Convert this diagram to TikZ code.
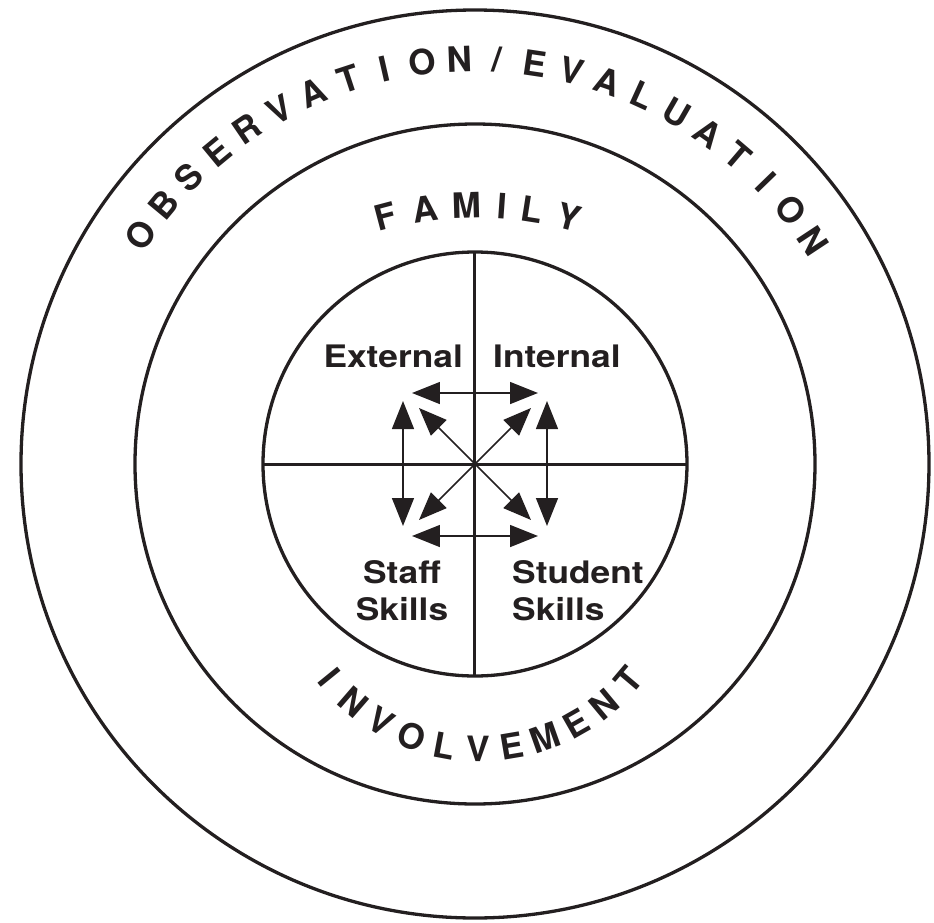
\documentclass[tikz,border=0pt]{standalone}
\usepackage{fontspec}
\setmainfont{TeX Gyre Heros}
\newfontfamily\widefont{TeX Gyre Heros}[FakeStretch=1.14]
\usetikzlibrary{arrows.meta,calc}
\definecolor{ink}{RGB}{35,31,32}

\begin{document}
\begin{tikzpicture}[x=1pt, y=1pt, color=ink,
    ring/.style={circle, draw, line width=3.3pt, inner sep=0pt, outer sep=0pt},
    curved/.style={inner sep=0pt, font=\bfseries\fontsize{35}{35}\selectfont},
    quad/.style={inner sep=0pt, font=\widefont\bfseries\fontsize{31}{37}\selectfont},
    dbl/.style={{Triangle[length=28pt,width=22pt]}-{Triangle[length=28pt,width=22pt]}, line width=1.5pt},
    sgl/.style={-{Triangle[length=28pt,width=22pt]}, line width=1.5pt}]
  \useasboundingbox (-475,-458) rectangle (459,464);

  % rings
  \node[ring, minimum size=908pt] (outer) at (0,0) {};
  \node[ring, minimum size=680pt] (middle) at (0,0) {};
  \node[ring, minimum size=424pt] (core) at (0,0) {};
  \draw[line width=3pt] (core.north) -- (core.south);
  \draw[line width=3pt] (core.west) -- (core.east);

  % curved titles
  \foreach \ch [count=\i from 0] in {O,B,S,E,R,V,A,T,I,O,N,\slash,E,V,A,L,U,A,T,I,O,N} {
    \pgfmathsetmacro\ang{145.6-5.34*\i}
    \node[curved, rotate=\ang-90] (obs\i) at (\ang:405) {\ch};
  }
  \coordinate (famc) at (2,-100);
  \foreach \ch/\ang [count=\i] in {F/104.8, A/98.3, M/91.6, I/86, L/81.1, Y/75.2}
    \node[curved, rotate=\ang-90] (fam\i) at ($(famc)+(\ang:359)$) {\ch};
  \coordinate (invc) at (5,-91);
  \foreach \ch [count=\i from 0] in {I,N,V,O,L,V,E,M,E,N,T} {
    \pgfmathsetmacro\ang{219.1+10.07*\i}
    \node[curved, rotate=\ang+90] (inv\i) at ($(invc)+(\ang:194)$) {\ch};
  }

  % quadrant labels
  \node[quad, anchor=base east] (ext) at (-12,97) {External};
  \node[quad, anchor=base west] (int) at (18,97) {Internal};
  \node[quad, anchor=north, align=center] (staff) at (-73,-96) {Staff\\Skills};
  \node[quad, anchor=north west, align=left] (student) at (37,-96) {Student\\Skills};

  % arrows
  \coordinate (topL) at (-63,71);    \coordinate (topR) at (63,71);
  \coordinate (botL) at (-63,-72);   \coordinate (botR) at (63,-72);
  \coordinate (leftUp) at (-72,63);  \coordinate (leftDn) at (-72,-62);
  \coordinate (rightUp) at (72,63);  \coordinate (rightDn) at (72,-62);
  \coordinate (nw) at (-56,56);      \coordinate (ne) at (56,56);
  \coordinate (sw) at (-56,-56);     \coordinate (se) at (56,-56);
  \draw[dbl] (topL) -- (topR);
  \draw[dbl] (botL) -- (botR);
  \draw[dbl] (leftUp) -- (leftDn);
  \draw[dbl] (rightUp) -- (rightDn);
  \foreach \d in {nw,ne,sw,se}
    \draw[sgl] (core.center) -- (\d);
\end{tikzpicture}
\end{document}
